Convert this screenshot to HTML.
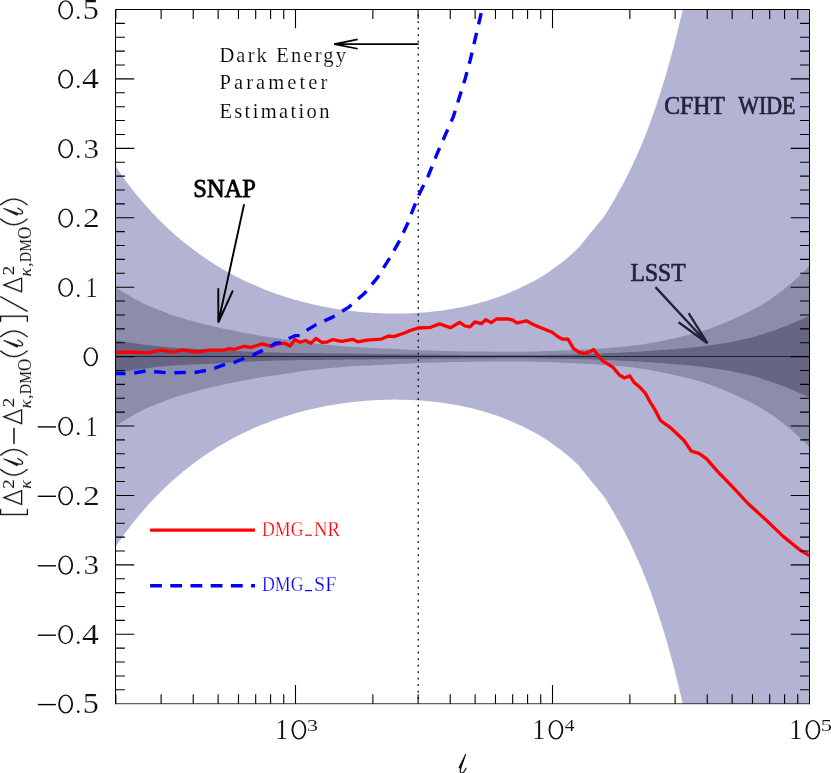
<!DOCTYPE html>
<html><head><meta charset="utf-8"><title>plot</title>
<style>
html,body{margin:0;padding:0;background:#fff;}
body{width:831px;height:773px;overflow:hidden;}
svg{display:block;}
text{font-family:"Liberation Serif",serif;}
</style></head><body>
<svg width="831" height="773" viewBox="0 0 831 773">
<rect width="831" height="773" fill="#fff"/>
<defs><clipPath id="c"><rect x="115.5" y="9.5" width="694.0" height="694.2"/></clipPath></defs>
<g clip-path="url(#c)">
<path d="M114.5,164.6 L115.6,166.3 L116.8,168.1 L119.2,171.6 L121.5,174.9 L123.8,178.2 L126.1,181.4 L128.5,184.5 L130.8,187.5 L133.1,190.5 L135.4,193.4 L137.8,196.3 L140.1,199.1 L141.3,200.5 L142.4,201.8 L144.8,204.5 L147.1,207.1 L149.4,209.6 L151.7,212.2 L154.1,214.6 L156.4,217.0 L158.7,219.4 L161.1,221.7 L163.4,224.0 L165.7,226.2 L167.0,227.5 L168.0,228.4 L170.4,230.6 L172.7,232.7 L175.0,234.7 L177.3,236.8 L179.7,238.7 L182.0,240.7 L184.3,242.6 L186.7,244.5 L189.0,246.3 L191.3,248.1 L192.7,249.1 L193.6,249.8 L196.0,251.6 L198.3,253.3 L200.6,254.9 L203.0,256.6 L205.3,258.2 L207.6,259.7 L209.9,261.2 L212.3,262.8 L214.6,264.2 L216.9,265.7 L218.4,266.6 L219.2,267.1 L221.6,268.5 L223.9,269.8 L226.2,271.2 L228.6,272.5 L230.9,273.7 L233.2,275.0 L235.5,276.2 L237.9,277.4 L240.2,278.6 L242.5,279.7 L244.1,280.5 L244.9,280.9 L247.2,282.0 L249.5,283.0 L251.8,284.1 L254.2,285.1 L256.5,286.1 L258.8,287.1 L261.1,288.1 L263.5,289.0 L265.8,289.9 L268.1,290.8 L269.8,291.5 L270.5,291.7 L272.8,292.6 L275.1,293.4 L277.4,294.2 L279.8,295.0 L282.1,295.8 L284.4,296.6 L286.8,297.3 L289.1,298.0 L291.4,298.7 L293.7,299.4 L295.5,299.9 L296.1,300.1 L298.4,300.7 L300.7,301.4 L303.0,302.0 L305.4,302.6 L307.7,303.1 L310.0,303.7 L312.4,304.3 L314.7,304.8 L317.0,305.3 L319.3,305.8 L321.2,306.2 L321.7,306.3 L324.0,306.7 L326.3,307.2 L328.7,307.6 L331.0,308.0 L333.3,308.4 L335.6,308.8 L338.0,309.2 L340.3,309.5 L342.6,309.9 L344.9,310.2 L346.9,310.4 L347.3,310.5 L349.6,310.8 L351.9,311.1 L354.3,311.3 L356.6,311.6 L358.9,311.8 L361.2,312.0 L363.6,312.2 L365.9,312.4 L368.2,312.6 L370.6,312.8 L372.6,312.9 L372.9,312.9 L375.2,313.0 L377.5,313.1 L379.9,313.2 L382.2,313.3 L384.5,313.4 L386.8,313.5 L389.2,313.5 L391.5,313.5 L393.8,313.6 L396.2,313.6 L398.3,313.5 L398.5,313.5 L400.8,313.5 L403.1,313.5 L405.5,313.4 L407.8,313.3 L410.1,313.3 L412.5,313.2 L414.8,313.0 L417.1,312.9 L419.4,312.7 L421.8,312.6 L424.0,312.4 L424.1,312.4 L426.4,312.2 L428.7,312.0 L431.1,311.8 L433.4,311.5 L435.7,311.3 L438.1,311.0 L440.4,310.7 L442.7,310.4 L445.0,310.0 L447.4,309.7 L449.7,309.3 L449.7,309.3 L452.0,308.9 L454.4,308.5 L456.7,308.1 L459.0,307.7 L461.3,307.2 L463.7,306.7 L466.0,306.2 L468.3,305.7 L470.6,305.2 L473.0,304.6 L475.3,304.0 L475.4,304.0 L477.6,303.4 L480.0,302.8 L482.3,302.1 L484.6,301.5 L486.9,300.8 L489.3,300.0 L491.6,299.3 L493.9,298.5 L496.3,297.7 L498.6,296.9 L500.9,296.0 L501.1,296.0 L503.2,295.2 L505.6,294.3 L507.9,293.3 L510.2,292.3 L512.5,291.3 L514.9,290.3 L517.2,289.3 L519.5,288.2 L521.9,287.1 L524.2,285.9 L526.5,284.8 L526.8,284.6 L528.8,283.6 L531.2,282.4 L533.5,281.2 L535.8,279.9 L538.2,278.7 L540.5,277.3 L542.8,276.0 L543.0,275.8 L545.1,274.4 L547.5,272.9 L549.8,271.2 L552.1,269.6 L552.5,269.3 L554.4,267.9 L555.0,267.4 L556.8,266.2 L559.1,264.5 L561.4,262.7 L563.8,260.9 L566.1,259.0 L568.0,257.5 L568.4,257.1 L570.7,255.1 L573.1,253.0 L575.4,250.8 L577.7,248.6 L578.0,248.3 L578.2,248.1 L580.1,245.9 L582.4,243.1 L584.7,240.2 L585.0,239.8 L587.0,237.3 L589.4,234.4 L591.7,231.4 L592.0,231.0 L594.0,228.7 L596.3,225.9 L598.0,223.8 L598.7,223.0 L601.0,220.2 L603.3,217.3 L603.9,216.5 L605.0,215.1 L605.7,214.1 L608.0,210.3 L610.3,206.4 L612.0,203.5 L612.6,202.4 L615.0,198.4 L617.3,194.3 L619.6,190.1 L622.0,185.9 L624.3,181.6 L626.6,177.1 L628.9,172.5 L629.6,171.1 L631.3,167.7 L633.6,162.8 L635.9,157.7 L638.2,152.5 L640.6,147.1 L642.9,141.4 L645.2,135.7 L647.6,129.7 L649.9,123.5 L652.2,117.1 L654.5,110.4 L655.3,108.2 L656.9,103.6 L659.2,96.5 L661.5,89.2 L663.9,81.6 L666.2,73.7 L668.5,65.6 L670.8,57.2 L673.2,48.5 L675.5,39.5 L677.8,30.2 L680.1,20.5 L681.0,16.9 L682.5,10.5 L684.8,0.2 L687.1,-5.0 L689.5,-5.0 L691.8,-5.0 L694.1,-5.0 L696.4,-5.0 L698.8,-5.0 L701.1,-5.0 L703.4,-5.0 L705.8,-5.0 L706.7,-5.0 L708.1,-5.0 L710.4,-5.0 L712.7,-5.0 L715.1,-5.0 L717.4,-5.0 L719.7,-5.0 L722.0,-5.0 L724.4,-5.0 L726.7,-5.0 L729.0,-5.0 L731.4,-5.0 L732.4,-5.0 L733.7,-5.0 L736.0,-5.0 L738.3,-5.0 L740.7,-5.0 L743.0,-5.0 L745.3,-5.0 L747.7,-5.0 L750.0,-5.0 L752.3,-5.0 L754.6,-5.0 L757.0,-5.0 L758.1,-5.0 L759.3,-5.0 L761.6,-5.0 L763.9,-5.0 L766.3,-5.0 L768.6,-5.0 L770.9,-5.0 L773.3,-5.0 L775.6,-5.0 L777.9,-5.0 L780.2,-5.0 L782.6,-5.0 L783.8,-5.0 L784.9,-5.0 L787.2,-5.0 L789.6,-5.0 L791.9,-5.0 L794.2,-5.0 L796.5,-5.0 L798.9,-5.0 L801.2,-5.0 L803.5,-5.0 L805.8,-5.0 L808.2,-5.0 L809.5,-5.0 L810.5,-5.0 L810.5,780.0 L809.5,780.0 L808.2,780.0 L805.8,780.0 L803.5,780.0 L801.2,780.0 L798.9,780.0 L796.5,780.0 L794.2,780.0 L791.9,780.0 L789.6,780.0 L787.2,780.0 L784.9,780.0 L783.8,780.0 L782.6,780.0 L780.2,780.0 L777.9,780.0 L775.6,780.0 L773.3,780.0 L770.9,780.0 L768.6,780.0 L766.3,780.0 L763.9,780.0 L761.6,780.0 L759.3,780.0 L758.1,780.0 L757.0,780.0 L754.6,780.0 L752.3,780.0 L750.0,780.0 L747.7,780.0 L745.3,780.0 L743.0,780.0 L740.7,780.0 L738.3,780.0 L736.0,780.0 L733.7,780.0 L732.4,780.0 L731.4,780.0 L729.0,780.0 L726.7,780.0 L724.4,780.0 L722.0,780.0 L719.7,780.0 L717.4,780.0 L715.1,780.0 L712.7,780.0 L710.4,780.0 L708.1,780.0 L706.7,780.0 L705.8,780.0 L703.4,780.0 L701.1,780.0 L698.8,780.0 L696.4,770.7 L694.1,758.3 L691.8,746.4 L689.5,734.9 L687.1,723.8 L684.8,713.0 L682.5,702.7 L681.0,696.3 L680.1,692.7 L677.8,683.0 L675.5,673.7 L673.2,664.7 L670.8,656.0 L668.5,647.6 L666.2,639.5 L663.9,631.6 L661.5,624.0 L659.2,616.7 L656.9,609.6 L655.3,605.0 L654.5,602.8 L652.2,596.1 L649.9,589.7 L647.6,583.5 L645.2,577.5 L642.9,571.8 L640.6,566.1 L638.2,560.7 L635.9,555.5 L633.6,550.4 L631.3,545.5 L629.6,542.1 L628.9,540.7 L626.6,536.1 L624.3,531.6 L622.0,527.3 L619.6,523.1 L617.3,518.9 L615.0,514.8 L612.6,510.8 L612.0,509.7 L610.3,506.8 L608.0,502.9 L605.7,499.1 L605.0,498.1 L603.9,496.7 L603.3,495.9 L601.0,493.0 L598.7,490.2 L598.0,489.4 L596.3,487.3 L594.0,484.5 L592.0,482.2 L591.7,481.8 L589.4,478.8 L587.0,475.9 L585.0,473.4 L584.7,473.0 L582.4,470.1 L580.1,467.3 L578.2,465.1 L578.0,464.9 L577.7,464.6 L575.4,462.4 L573.1,460.2 L570.7,458.1 L568.4,456.1 L568.0,455.7 L566.1,454.2 L563.8,452.3 L561.4,450.5 L559.1,448.7 L556.8,447.0 L555.0,445.8 L554.4,445.3 L552.5,443.9 L552.1,443.6 L549.8,442.0 L547.5,440.3 L545.1,438.8 L543.0,437.4 L542.8,437.2 L540.5,435.9 L538.2,434.5 L535.8,433.3 L533.5,432.0 L531.2,430.8 L528.8,429.6 L526.8,428.6 L526.5,428.4 L524.2,427.3 L521.9,426.1 L519.5,425.0 L517.2,423.9 L514.9,422.9 L512.5,421.9 L510.2,420.9 L507.9,419.9 L505.6,418.9 L503.2,418.0 L501.1,417.2 L500.9,417.2 L498.6,416.3 L496.3,415.5 L493.9,414.7 L491.6,413.9 L489.3,413.2 L486.9,412.4 L484.6,411.7 L482.3,411.1 L480.0,410.4 L477.6,409.8 L475.4,409.2 L475.3,409.2 L473.0,408.6 L470.6,408.0 L468.3,407.5 L466.0,407.0 L463.7,406.5 L461.3,406.0 L459.0,405.5 L456.7,405.1 L454.4,404.7 L452.0,404.3 L449.7,403.9 L449.7,403.9 L447.4,403.5 L445.0,403.2 L442.7,402.8 L440.4,402.5 L438.1,402.2 L435.7,401.9 L433.4,401.7 L431.1,401.4 L428.7,401.2 L426.4,401.0 L424.1,400.8 L424.0,400.8 L421.8,400.6 L419.4,400.5 L417.1,400.3 L414.8,400.2 L412.5,400.0 L410.1,399.9 L407.8,399.9 L405.5,399.8 L403.1,399.7 L400.8,399.7 L398.5,399.7 L398.3,399.7 L396.2,399.6 L393.8,399.6 L391.5,399.7 L389.2,399.7 L386.8,399.7 L384.5,399.8 L382.2,399.9 L379.9,400.0 L377.5,400.1 L375.2,400.2 L372.9,400.3 L372.6,400.3 L370.6,400.4 L368.2,400.6 L365.9,400.8 L363.6,401.0 L361.2,401.2 L358.9,401.4 L356.6,401.6 L354.3,401.9 L351.9,402.1 L349.6,402.4 L347.3,402.7 L346.9,402.8 L344.9,403.0 L342.6,403.3 L340.3,403.7 L338.0,404.0 L335.6,404.4 L333.3,404.8 L331.0,405.2 L328.7,405.6 L326.3,406.0 L324.0,406.5 L321.7,406.9 L321.2,407.0 L319.3,407.4 L317.0,407.9 L314.7,408.4 L312.4,408.9 L310.0,409.5 L307.7,410.1 L305.4,410.6 L303.0,411.2 L300.7,411.8 L298.4,412.5 L296.1,413.1 L295.5,413.3 L293.7,413.8 L291.4,414.5 L289.1,415.2 L286.8,415.9 L284.4,416.6 L282.1,417.4 L279.8,418.2 L277.4,419.0 L275.1,419.8 L272.8,420.6 L270.5,421.5 L269.8,421.7 L268.1,422.4 L265.8,423.3 L263.5,424.2 L261.1,425.1 L258.8,426.1 L256.5,427.1 L254.2,428.1 L251.8,429.1 L249.5,430.2 L247.2,431.2 L244.9,432.3 L244.1,432.7 L242.5,433.5 L240.2,434.6 L237.9,435.8 L235.5,437.0 L233.2,438.2 L230.9,439.5 L228.6,440.7 L226.2,442.0 L223.9,443.4 L221.6,444.7 L219.2,446.1 L218.4,446.6 L216.9,447.5 L214.6,449.0 L212.3,450.4 L209.9,452.0 L207.6,453.5 L205.3,455.0 L203.0,456.6 L200.6,458.3 L198.3,459.9 L196.0,461.6 L193.6,463.4 L192.7,464.1 L191.3,465.1 L189.0,466.9 L186.7,468.7 L184.3,470.6 L182.0,472.5 L179.7,474.5 L177.3,476.4 L175.0,478.5 L172.7,480.5 L170.4,482.6 L168.0,484.8 L167.0,485.7 L165.7,487.0 L163.4,489.2 L161.1,491.5 L158.7,493.8 L156.4,496.2 L154.1,498.6 L151.7,501.0 L149.4,503.6 L147.1,506.1 L144.8,508.7 L142.4,511.4 L141.3,512.7 L140.1,514.1 L137.8,516.9 L135.4,519.8 L133.1,522.7 L130.8,525.7 L128.5,528.7 L126.1,531.8 L123.8,535.0 L121.5,538.3 L119.2,541.6 L116.8,545.1 L115.6,546.9 L114.5,548.6Z" fill="#b3b3d4"/>
<path d="M114.5,287.4 L115.6,287.5 L116.8,288.2 L119.2,289.5 L121.5,290.9 L123.8,292.3 L126.1,293.7 L128.5,295.1 L130.8,296.5 L133.1,297.9 L135.4,299.2 L137.8,300.5 L140.1,301.7 L141.3,302.3 L142.4,302.9 L144.8,304.1 L147.1,305.1 L149.4,306.2 L151.7,307.1 L154.1,308.1 L156.4,309.0 L158.7,309.9 L161.1,310.8 L163.4,311.7 L165.7,312.6 L167.0,313.1 L168.0,313.5 L170.4,314.4 L172.7,315.2 L175.0,316.0 L177.3,316.7 L179.7,317.4 L182.0,318.1 L184.3,318.8 L186.7,319.5 L189.0,320.2 L191.3,320.8 L192.7,321.2 L193.6,321.4 L196.0,322.0 L198.3,322.7 L200.6,323.3 L203.0,323.9 L205.3,324.5 L207.6,325.0 L209.9,325.6 L212.3,326.2 L214.6,326.7 L216.9,327.2 L218.4,327.5 L219.2,327.7 L221.6,328.2 L223.9,328.7 L226.2,329.2 L228.6,329.6 L230.9,330.1 L233.2,330.6 L235.5,331.0 L237.9,331.5 L240.2,331.9 L242.5,332.4 L244.1,332.7 L244.9,332.9 L247.2,333.3 L249.5,333.8 L251.8,334.2 L254.2,334.6 L256.5,335.1 L258.8,335.5 L261.1,335.9 L263.5,336.2 L265.8,336.6 L268.1,336.9 L269.8,337.2 L270.5,337.3 L272.8,337.6 L275.1,337.9 L277.4,338.2 L279.8,338.5 L282.1,338.9 L284.4,339.2 L286.8,339.6 L289.1,339.9 L291.4,340.4 L293.7,340.8 L295.5,341.1 L296.1,341.2 L298.4,341.6 L300.7,341.9 L303.0,342.2 L305.4,342.5 L307.7,342.7 L310.0,343.0 L312.4,343.2 L314.7,343.5 L317.0,343.7 L319.3,343.9 L321.2,344.1 L321.7,344.2 L324.0,344.4 L326.3,344.7 L328.7,344.9 L331.0,345.1 L333.3,345.4 L335.6,345.6 L338.0,345.8 L340.3,346.0 L342.6,346.2 L344.9,346.4 L346.9,346.5 L347.3,346.6 L349.6,346.7 L351.9,346.9 L354.3,347.0 L356.6,347.1 L358.9,347.2 L361.2,347.4 L363.6,347.5 L365.9,347.6 L368.2,347.7 L370.6,347.8 L372.6,347.9 L372.9,347.9 L375.2,348.1 L377.5,348.2 L379.9,348.3 L382.2,348.4 L384.5,348.5 L386.8,348.6 L389.2,348.7 L391.5,348.8 L393.8,348.9 L396.2,349.0 L398.3,349.1 L398.5,349.1 L400.8,349.2 L403.1,349.4 L405.5,349.5 L407.8,349.6 L410.1,349.7 L412.5,349.9 L414.8,350.0 L417.1,350.1 L419.4,350.2 L421.8,350.3 L424.0,350.3 L424.1,350.3 L426.4,350.4 L428.7,350.5 L431.1,350.6 L433.4,350.6 L435.7,350.7 L438.1,350.8 L440.4,350.8 L442.7,350.9 L445.0,351.0 L447.4,351.0 L449.7,351.1 L449.7,351.1 L452.0,351.1 L454.4,351.2 L456.7,351.2 L459.0,351.3 L461.3,351.3 L463.7,351.3 L466.0,351.4 L468.3,351.4 L470.6,351.4 L473.0,351.5 L475.3,351.5 L475.4,351.5 L477.6,351.5 L480.0,351.5 L482.3,351.6 L484.6,351.6 L486.9,351.6 L489.3,351.6 L491.6,351.7 L493.9,351.7 L496.3,351.7 L498.6,351.7 L500.9,351.7 L501.1,351.7 L503.2,351.7 L505.6,351.8 L507.9,351.8 L510.2,351.8 L512.5,351.8 L514.9,351.8 L517.2,351.8 L519.5,351.8 L521.9,351.8 L524.2,351.8 L526.5,351.7 L526.8,351.7 L528.8,351.7 L531.2,351.6 L533.5,351.6 L535.8,351.5 L538.2,351.4 L540.5,351.3 L542.8,351.2 L543.0,351.2 L545.1,351.1 L547.5,351.1 L549.8,351.0 L552.1,350.9 L552.5,350.9 L554.4,350.8 L555.0,350.8 L556.8,350.7 L559.1,350.6 L561.4,350.5 L563.8,350.4 L566.1,350.3 L568.0,350.3 L568.4,350.2 L570.7,350.1 L573.1,350.0 L575.4,349.9 L577.7,349.8 L578.0,349.8 L578.2,349.8 L580.1,349.7 L582.4,349.6 L584.7,349.5 L585.0,349.4 L587.0,349.3 L589.4,349.2 L591.7,349.1 L592.0,349.1 L594.0,348.9 L596.3,348.8 L598.0,348.7 L598.7,348.6 L601.0,348.5 L603.3,348.3 L603.9,348.3 L605.0,348.2 L605.7,348.2 L608.0,348.0 L610.3,347.8 L612.0,347.7 L612.6,347.6 L615.0,347.4 L617.3,347.2 L619.6,347.0 L622.0,346.8 L624.3,346.6 L626.6,346.4 L628.9,346.1 L629.6,346.1 L631.3,345.9 L633.6,345.6 L635.9,345.3 L638.2,345.0 L640.6,344.7 L642.9,344.4 L645.2,344.0 L647.6,343.6 L649.9,343.2 L652.2,342.7 L654.5,342.3 L655.3,342.2 L656.9,341.9 L659.2,341.4 L661.5,340.9 L663.9,340.5 L666.2,340.0 L668.5,339.4 L670.8,338.9 L673.2,338.4 L675.5,337.9 L677.8,337.4 L680.1,336.8 L681.0,336.7 L682.5,336.3 L684.8,335.8 L687.1,335.3 L689.5,334.7 L691.8,334.1 L694.1,333.5 L696.4,332.9 L698.8,332.3 L701.1,331.6 L703.4,330.8 L705.8,330.0 L706.7,329.7 L708.1,329.2 L710.4,328.4 L712.7,327.5 L715.1,326.6 L717.4,325.7 L719.7,324.8 L722.0,323.9 L724.4,322.9 L726.7,321.9 L729.0,320.9 L731.4,319.9 L732.4,319.5 L733.7,318.9 L736.0,317.8 L738.3,316.8 L740.7,315.7 L743.0,314.6 L745.3,313.5 L747.7,312.4 L750.0,311.2 L752.3,310.0 L754.6,308.8 L757.0,307.5 L758.1,306.9 L759.3,306.2 L761.6,304.9 L763.9,303.5 L766.3,302.0 L768.6,300.5 L770.9,298.9 L773.3,297.3 L775.6,295.6 L777.9,293.9 L780.2,292.1 L782.6,290.3 L783.8,289.4 L784.9,288.5 L787.2,286.6 L789.6,284.7 L791.9,282.8 L794.2,280.7 L796.5,278.6 L798.9,276.5 L801.2,274.2 L803.5,271.9 L805.8,269.6 L808.2,267.1 L809.5,265.7 L810.5,264.6 L810.5,448.6 L809.5,447.5 L808.2,446.1 L805.8,443.6 L803.5,441.3 L801.2,439.0 L798.9,436.7 L796.5,434.6 L794.2,432.5 L791.9,430.4 L789.6,428.5 L787.2,426.6 L784.9,424.7 L783.8,423.8 L782.6,422.9 L780.2,421.1 L777.9,419.3 L775.6,417.6 L773.3,415.9 L770.9,414.3 L768.6,412.7 L766.3,411.2 L763.9,409.7 L761.6,408.3 L759.3,407.0 L758.1,406.3 L757.0,405.7 L754.6,404.4 L752.3,403.2 L750.0,402.0 L747.7,400.8 L745.3,399.7 L743.0,398.6 L740.7,397.5 L738.3,396.4 L736.0,395.4 L733.7,394.3 L732.4,393.7 L731.4,393.3 L729.0,392.3 L726.7,391.3 L724.4,390.3 L722.0,389.3 L719.7,388.4 L717.4,387.5 L715.1,386.6 L712.7,385.7 L710.4,384.8 L708.1,384.0 L706.7,383.5 L705.8,383.2 L703.4,382.4 L701.1,381.6 L698.8,380.9 L696.4,380.3 L694.1,379.7 L691.8,379.1 L689.5,378.5 L687.1,377.9 L684.8,377.4 L682.5,376.9 L681.0,376.5 L680.1,376.4 L677.8,375.8 L675.5,375.3 L673.2,374.8 L670.8,374.3 L668.5,373.8 L666.2,373.2 L663.9,372.7 L661.5,372.3 L659.2,371.8 L656.9,371.3 L655.3,371.0 L654.5,370.9 L652.2,370.5 L649.9,370.0 L647.6,369.6 L645.2,369.2 L642.9,368.8 L640.6,368.5 L638.2,368.2 L635.9,367.9 L633.6,367.6 L631.3,367.3 L629.6,367.1 L628.9,367.1 L626.6,366.8 L624.3,366.6 L622.0,366.4 L619.6,366.2 L617.3,366.0 L615.0,365.8 L612.6,365.6 L612.0,365.5 L610.3,365.4 L608.0,365.2 L605.7,365.0 L605.0,365.0 L603.9,364.9 L603.3,364.9 L601.0,364.7 L598.7,364.6 L598.0,364.5 L596.3,364.4 L594.0,364.3 L592.0,364.1 L591.7,364.1 L589.4,364.0 L587.0,363.9 L585.0,363.8 L584.7,363.7 L582.4,363.6 L580.1,363.5 L578.2,363.4 L578.0,363.4 L577.7,363.4 L575.4,363.3 L573.1,363.2 L570.7,363.1 L568.4,363.0 L568.0,362.9 L566.1,362.9 L563.8,362.8 L561.4,362.7 L559.1,362.6 L556.8,362.5 L555.0,362.4 L554.4,362.4 L552.5,362.3 L552.1,362.3 L549.8,362.2 L547.5,362.1 L545.1,362.1 L543.0,362.0 L542.8,362.0 L540.5,361.9 L538.2,361.8 L535.8,361.7 L533.5,361.6 L531.2,361.6 L528.8,361.5 L526.8,361.5 L526.5,361.5 L524.2,361.4 L521.9,361.4 L519.5,361.4 L517.2,361.4 L514.9,361.4 L512.5,361.4 L510.2,361.4 L507.9,361.4 L505.6,361.4 L503.2,361.5 L501.1,361.5 L500.9,361.5 L498.6,361.5 L496.3,361.5 L493.9,361.5 L491.6,361.5 L489.3,361.6 L486.9,361.6 L484.6,361.6 L482.3,361.6 L480.0,361.7 L477.6,361.7 L475.4,361.7 L475.3,361.7 L473.0,361.7 L470.6,361.8 L468.3,361.8 L466.0,361.8 L463.7,361.9 L461.3,361.9 L459.0,361.9 L456.7,362.0 L454.4,362.0 L452.0,362.1 L449.7,362.1 L449.7,362.1 L447.4,362.2 L445.0,362.2 L442.7,362.3 L440.4,362.4 L438.1,362.4 L435.7,362.5 L433.4,362.6 L431.1,362.6 L428.7,362.7 L426.4,362.8 L424.1,362.9 L424.0,362.9 L421.8,362.9 L419.4,363.0 L417.1,363.1 L414.8,363.2 L412.5,363.3 L410.1,363.5 L407.8,363.6 L405.5,363.7 L403.1,363.8 L400.8,364.0 L398.5,364.1 L398.3,364.1 L396.2,364.2 L393.8,364.3 L391.5,364.4 L389.2,364.5 L386.8,364.6 L384.5,364.7 L382.2,364.8 L379.9,364.9 L377.5,365.0 L375.2,365.1 L372.9,365.3 L372.6,365.3 L370.6,365.4 L368.2,365.5 L365.9,365.6 L363.6,365.7 L361.2,365.8 L358.9,366.0 L356.6,366.1 L354.3,366.2 L351.9,366.3 L349.6,366.5 L347.3,366.6 L346.9,366.7 L344.9,366.8 L342.6,367.0 L340.3,367.2 L338.0,367.4 L335.6,367.6 L333.3,367.8 L331.0,368.1 L328.7,368.3 L326.3,368.5 L324.0,368.8 L321.7,369.0 L321.2,369.1 L319.3,369.3 L317.0,369.5 L314.7,369.7 L312.4,370.0 L310.0,370.2 L307.7,370.5 L305.4,370.7 L303.0,371.0 L300.7,371.3 L298.4,371.6 L296.1,372.0 L295.5,372.1 L293.7,372.4 L291.4,372.8 L289.1,373.3 L286.8,373.6 L284.4,374.0 L282.1,374.3 L279.8,374.7 L277.4,375.0 L275.1,375.3 L272.8,375.6 L270.5,375.9 L269.8,376.0 L268.1,376.3 L265.8,376.6 L263.5,377.0 L261.1,377.3 L258.8,377.7 L256.5,378.1 L254.2,378.6 L251.8,379.0 L249.5,379.4 L247.2,379.9 L244.9,380.3 L244.1,380.5 L242.5,380.8 L240.2,381.3 L237.9,381.7 L235.5,382.2 L233.2,382.6 L230.9,383.1 L228.6,383.6 L226.2,384.0 L223.9,384.5 L221.6,385.0 L219.2,385.5 L218.4,385.7 L216.9,386.0 L214.6,386.5 L212.3,387.0 L209.9,387.6 L207.6,388.2 L205.3,388.7 L203.0,389.3 L200.6,389.9 L198.3,390.5 L196.0,391.2 L193.6,391.8 L192.7,392.0 L191.3,392.4 L189.0,393.0 L186.7,393.7 L184.3,394.4 L182.0,395.1 L179.7,395.8 L177.3,396.5 L175.0,397.2 L172.7,398.0 L170.4,398.8 L168.0,399.7 L167.0,400.1 L165.7,400.6 L163.4,401.5 L161.1,402.4 L158.7,403.3 L156.4,404.2 L154.1,405.1 L151.7,406.1 L149.4,407.0 L147.1,408.1 L144.8,409.1 L142.4,410.3 L141.3,410.9 L140.1,411.5 L137.8,412.7 L135.4,414.0 L133.1,415.3 L130.8,416.7 L128.5,418.1 L126.1,419.5 L123.8,420.9 L121.5,422.3 L119.2,423.7 L116.8,425.0 L115.6,425.7 L114.5,425.8Z" fill="#8c8cab"/>
<path d="M114.5,340.4 L115.6,340.4 L116.8,340.6 L119.2,341.0 L121.5,341.4 L123.8,341.7 L126.1,342.1 L128.5,342.4 L130.8,342.8 L133.1,343.1 L135.4,343.4 L137.8,343.7 L140.1,344.1 L141.3,344.2 L142.4,344.4 L144.8,344.7 L147.1,345.0 L149.4,345.3 L151.7,345.6 L154.1,345.9 L156.4,346.1 L158.7,346.4 L161.1,346.6 L163.4,346.8 L165.7,347.0 L167.0,347.1 L168.0,347.2 L170.4,347.4 L172.7,347.6 L175.0,347.7 L177.3,347.9 L179.7,348.0 L182.0,348.2 L184.3,348.3 L186.7,348.4 L189.0,348.5 L191.3,348.6 L192.7,348.7 L193.6,348.7 L196.0,348.8 L198.3,348.9 L200.6,349.0 L203.0,349.1 L205.3,349.2 L207.6,349.3 L209.9,349.4 L212.3,349.5 L214.6,349.6 L216.9,349.8 L218.4,349.9 L219.2,349.9 L221.6,350.1 L223.9,350.2 L226.2,350.4 L228.6,350.5 L230.9,350.6 L233.2,350.8 L235.5,350.9 L237.9,351.0 L240.2,351.2 L242.5,351.3 L244.1,351.4 L244.9,351.4 L247.2,351.5 L249.5,351.7 L251.8,351.8 L254.2,351.9 L256.5,352.0 L258.8,352.1 L261.1,352.2 L263.5,352.2 L265.8,352.3 L268.1,352.4 L269.8,352.4 L270.5,352.5 L272.8,352.5 L275.1,352.6 L277.4,352.6 L279.8,352.7 L282.1,352.8 L284.4,352.8 L286.8,352.9 L289.1,352.9 L291.4,353.0 L293.7,353.0 L295.5,353.0 L296.1,353.0 L298.4,353.1 L300.7,353.1 L303.0,353.1 L305.4,353.2 L307.7,353.2 L310.0,353.2 L312.4,353.3 L314.7,353.3 L317.0,353.3 L319.3,353.3 L321.2,353.3 L321.7,353.3 L324.0,353.4 L326.3,353.4 L328.7,353.4 L331.0,353.4 L333.3,353.5 L335.6,353.5 L338.0,353.5 L340.3,353.5 L342.6,353.5 L344.9,353.6 L346.9,353.6 L347.3,353.6 L349.6,353.6 L351.9,353.6 L354.3,353.7 L356.6,353.7 L358.9,353.7 L361.2,353.8 L363.6,353.8 L365.9,353.8 L368.2,353.8 L370.6,353.9 L372.6,353.9 L372.9,353.9 L375.2,353.9 L377.5,353.9 L379.9,354.0 L382.2,354.0 L384.5,354.0 L386.8,354.1 L389.2,354.1 L391.5,354.1 L393.8,354.1 L396.2,354.2 L398.3,354.2 L398.5,354.2 L400.8,354.2 L403.1,354.2 L405.5,354.3 L407.8,354.3 L410.1,354.3 L412.5,354.3 L414.8,354.3 L417.1,354.4 L419.4,354.4 L421.8,354.4 L424.0,354.4 L424.1,354.4 L426.4,354.5 L428.7,354.5 L431.1,354.5 L433.4,354.6 L435.7,354.6 L438.1,354.6 L440.4,354.6 L442.7,354.7 L445.0,354.7 L447.4,354.7 L449.7,354.7 L449.7,354.7 L452.0,354.8 L454.4,354.8 L456.7,354.8 L459.0,354.8 L461.3,354.9 L463.7,354.9 L466.0,354.9 L468.3,354.9 L470.6,354.9 L473.0,354.9 L475.3,354.9 L475.4,354.9 L477.6,355.0 L480.0,355.0 L482.3,355.0 L484.6,355.0 L486.9,355.0 L489.3,355.0 L491.6,355.0 L493.9,355.0 L496.3,355.0 L498.6,355.1 L500.9,355.1 L501.1,355.1 L503.2,355.1 L505.6,355.1 L507.9,355.1 L510.2,355.1 L512.5,355.1 L514.9,355.1 L517.2,355.1 L519.5,355.1 L521.9,355.1 L524.2,355.1 L526.5,355.1 L526.8,355.1 L528.8,355.1 L531.2,355.0 L533.5,355.0 L535.8,355.0 L538.2,355.0 L540.5,354.9 L542.8,354.9 L543.0,354.9 L545.1,354.9 L547.5,354.8 L549.8,354.8 L552.1,354.8 L552.5,354.7 L554.4,354.7 L555.0,354.7 L556.8,354.7 L559.1,354.6 L561.4,354.6 L563.8,354.5 L566.1,354.5 L568.0,354.4 L568.4,354.4 L570.7,354.4 L573.1,354.3 L575.4,354.3 L577.7,354.2 L578.0,354.2 L578.2,354.2 L580.1,354.1 L582.4,354.1 L584.7,354.0 L585.0,354.0 L587.0,353.9 L589.4,353.9 L591.7,353.8 L592.0,353.8 L594.0,353.7 L596.3,353.6 L598.0,353.5 L598.7,353.5 L601.0,353.4 L603.3,353.3 L603.9,353.3 L605.0,353.3 L605.7,353.2 L608.0,353.1 L610.3,353.0 L612.0,353.0 L612.6,353.0 L615.0,352.9 L617.3,352.8 L619.6,352.7 L622.0,352.5 L624.3,352.4 L626.6,352.3 L628.9,352.2 L629.6,352.2 L631.3,352.1 L633.6,352.0 L635.9,351.8 L638.2,351.7 L640.6,351.6 L642.9,351.4 L645.2,351.3 L647.6,351.1 L649.9,350.9 L652.2,350.8 L654.5,350.6 L655.3,350.5 L656.9,350.4 L659.2,350.2 L661.5,350.1 L663.9,349.9 L666.2,349.7 L668.5,349.5 L670.8,349.3 L673.2,349.2 L675.5,349.0 L677.8,348.8 L680.1,348.6 L681.0,348.5 L682.5,348.4 L684.8,348.2 L687.1,348.0 L689.5,347.8 L691.8,347.6 L694.1,347.3 L696.4,347.1 L698.8,346.8 L701.1,346.6 L703.4,346.3 L705.8,346.0 L706.7,345.8 L708.1,345.6 L710.4,345.3 L712.7,345.0 L715.1,344.6 L717.4,344.3 L719.7,343.9 L722.0,343.5 L724.4,343.2 L726.7,342.8 L729.0,342.4 L731.4,341.9 L732.4,341.7 L733.7,341.5 L736.0,341.0 L738.3,340.5 L740.7,340.0 L743.0,339.5 L745.3,339.0 L747.7,338.4 L750.0,337.9 L752.3,337.3 L754.6,336.7 L757.0,336.1 L758.1,335.7 L759.3,335.3 L761.6,334.6 L763.9,333.8 L766.3,333.0 L768.6,332.2 L770.9,331.4 L773.3,330.6 L775.6,329.8 L777.9,329.0 L780.2,328.1 L782.6,327.3 L783.8,326.8 L784.9,326.4 L787.2,325.4 L789.6,324.4 L791.9,323.4 L794.2,322.4 L796.5,321.5 L798.9,320.5 L801.2,319.5 L803.5,318.5 L805.8,317.5 L808.2,316.6 L809.5,316.0 L810.5,315.6 L810.5,397.6 L809.5,397.2 L808.2,396.6 L805.8,395.7 L803.5,394.7 L801.2,393.7 L798.9,392.7 L796.5,391.7 L794.2,390.8 L791.9,389.8 L789.6,388.8 L787.2,387.8 L784.9,386.8 L783.8,386.4 L782.6,385.9 L780.2,385.1 L777.9,384.2 L775.6,383.4 L773.3,382.6 L770.9,381.8 L768.6,381.0 L766.3,380.2 L763.9,379.4 L761.6,378.6 L759.3,377.9 L758.1,377.5 L757.0,377.1 L754.6,376.5 L752.3,375.9 L750.0,375.3 L747.7,374.8 L745.3,374.2 L743.0,373.7 L740.7,373.2 L738.3,372.7 L736.0,372.2 L733.7,371.7 L732.4,371.5 L731.4,371.3 L729.0,370.8 L726.7,370.4 L724.4,370.0 L722.0,369.7 L719.7,369.3 L717.4,368.9 L715.1,368.6 L712.7,368.2 L710.4,367.9 L708.1,367.6 L706.7,367.4 L705.8,367.2 L703.4,366.9 L701.1,366.6 L698.8,366.4 L696.4,366.1 L694.1,365.9 L691.8,365.6 L689.5,365.4 L687.1,365.2 L684.8,365.0 L682.5,364.8 L681.0,364.7 L680.1,364.6 L677.8,364.4 L675.5,364.2 L673.2,364.0 L670.8,363.9 L668.5,363.7 L666.2,363.5 L663.9,363.3 L661.5,363.1 L659.2,363.0 L656.9,362.8 L655.3,362.7 L654.5,362.6 L652.2,362.4 L649.9,362.3 L647.6,362.1 L645.2,361.9 L642.9,361.8 L640.6,361.6 L638.2,361.5 L635.9,361.4 L633.6,361.2 L631.3,361.1 L629.6,361.0 L628.9,361.0 L626.6,360.9 L624.3,360.8 L622.0,360.7 L619.6,360.5 L617.3,360.4 L615.0,360.3 L612.6,360.2 L612.0,360.2 L610.3,360.2 L608.0,360.1 L605.7,360.0 L605.0,359.9 L603.9,359.9 L603.3,359.9 L601.0,359.8 L598.7,359.7 L598.0,359.7 L596.3,359.6 L594.0,359.5 L592.0,359.4 L591.7,359.4 L589.4,359.3 L587.0,359.3 L585.0,359.2 L584.7,359.2 L582.4,359.1 L580.1,359.1 L578.2,359.0 L578.0,359.0 L577.7,359.0 L575.4,358.9 L573.1,358.9 L570.7,358.8 L568.4,358.8 L568.0,358.8 L566.1,358.7 L563.8,358.7 L561.4,358.6 L559.1,358.6 L556.8,358.5 L555.0,358.5 L554.4,358.5 L552.5,358.5 L552.1,358.4 L549.8,358.4 L547.5,358.4 L545.1,358.3 L543.0,358.3 L542.8,358.3 L540.5,358.3 L538.2,358.2 L535.8,358.2 L533.5,358.2 L531.2,358.2 L528.8,358.1 L526.8,358.1 L526.5,358.1 L524.2,358.1 L521.9,358.1 L519.5,358.1 L517.2,358.1 L514.9,358.1 L512.5,358.1 L510.2,358.1 L507.9,358.1 L505.6,358.1 L503.2,358.1 L501.1,358.1 L500.9,358.1 L498.6,358.1 L496.3,358.2 L493.9,358.2 L491.6,358.2 L489.3,358.2 L486.9,358.2 L484.6,358.2 L482.3,358.2 L480.0,358.2 L477.6,358.2 L475.4,358.3 L475.3,358.3 L473.0,358.3 L470.6,358.3 L468.3,358.3 L466.0,358.3 L463.7,358.3 L461.3,358.3 L459.0,358.4 L456.7,358.4 L454.4,358.4 L452.0,358.4 L449.7,358.5 L449.7,358.5 L447.4,358.5 L445.0,358.5 L442.7,358.5 L440.4,358.6 L438.1,358.6 L435.7,358.6 L433.4,358.6 L431.1,358.7 L428.7,358.7 L426.4,358.7 L424.1,358.8 L424.0,358.8 L421.8,358.8 L419.4,358.8 L417.1,358.8 L414.8,358.9 L412.5,358.9 L410.1,358.9 L407.8,358.9 L405.5,358.9 L403.1,359.0 L400.8,359.0 L398.5,359.0 L398.3,359.0 L396.2,359.0 L393.8,359.1 L391.5,359.1 L389.2,359.1 L386.8,359.1 L384.5,359.2 L382.2,359.2 L379.9,359.2 L377.5,359.3 L375.2,359.3 L372.9,359.3 L372.6,359.3 L370.6,359.3 L368.2,359.4 L365.9,359.4 L363.6,359.4 L361.2,359.4 L358.9,359.5 L356.6,359.5 L354.3,359.5 L351.9,359.6 L349.6,359.6 L347.3,359.6 L346.9,359.6 L344.9,359.6 L342.6,359.7 L340.3,359.7 L338.0,359.7 L335.6,359.7 L333.3,359.7 L331.0,359.8 L328.7,359.8 L326.3,359.8 L324.0,359.8 L321.7,359.9 L321.2,359.9 L319.3,359.9 L317.0,359.9 L314.7,359.9 L312.4,359.9 L310.0,360.0 L307.7,360.0 L305.4,360.0 L303.0,360.1 L300.7,360.1 L298.4,360.1 L296.1,360.2 L295.5,360.2 L293.7,360.2 L291.4,360.2 L289.1,360.3 L286.8,360.3 L284.4,360.4 L282.1,360.4 L279.8,360.5 L277.4,360.6 L275.1,360.6 L272.8,360.7 L270.5,360.7 L269.8,360.8 L268.1,360.8 L265.8,360.9 L263.5,361.0 L261.1,361.0 L258.8,361.1 L256.5,361.2 L254.2,361.3 L251.8,361.4 L249.5,361.5 L247.2,361.7 L244.9,361.8 L244.1,361.8 L242.5,361.9 L240.2,362.0 L237.9,362.2 L235.5,362.3 L233.2,362.4 L230.9,362.6 L228.6,362.7 L226.2,362.8 L223.9,363.0 L221.6,363.1 L219.2,363.3 L218.4,363.3 L216.9,363.4 L214.6,363.6 L212.3,363.7 L209.9,363.8 L207.6,363.9 L205.3,364.0 L203.0,364.1 L200.6,364.2 L198.3,364.3 L196.0,364.4 L193.6,364.5 L192.7,364.5 L191.3,364.6 L189.0,364.7 L186.7,364.8 L184.3,364.9 L182.0,365.0 L179.7,365.2 L177.3,365.3 L175.0,365.5 L172.7,365.6 L170.4,365.8 L168.0,366.0 L167.0,366.1 L165.7,366.2 L163.4,366.4 L161.1,366.6 L158.7,366.8 L156.4,367.1 L154.1,367.3 L151.7,367.6 L149.4,367.9 L147.1,368.2 L144.8,368.5 L142.4,368.8 L141.3,369.0 L140.1,369.1 L137.8,369.5 L135.4,369.8 L133.1,370.1 L130.8,370.4 L128.5,370.8 L126.1,371.1 L123.8,371.5 L121.5,371.8 L119.2,372.2 L116.8,372.6 L115.6,372.8 L114.5,372.8Z" fill="#666684"/>
<path d="M115.5,356.5 H809.5" stroke="#20202e" stroke-width="1"/>
<path d="M418.22,8.75 V703.7" stroke="#0a0a14" stroke-width="1.4" stroke-dasharray="0.8 5.7" stroke-linecap="round"/>
<path d="M115.6,352.3 L130.0,352.0 L148.1,352.9 L160.7,350.2 L173.4,352.0 L182.4,350.0 L196.8,352.0 L209.5,350.2 L223.9,350.2 L229.3,348.7 L234.7,349.3 L243.8,346.4 L251.0,347.5 L262.2,343.8 L271.2,346.3 L278.5,343.8 L284.8,343.2 L290.2,346.0 L294.7,339.6 L300.1,342.3 L305.5,340.5 L311.0,343.2 L316.0,338.4 L321.8,342.3 L327.2,342.0 L332.6,339.6 L341.6,341.4 L352.5,339.3 L357.9,341.8 L366.9,340.2 L381.4,339.1 L388.6,336.0 L394.0,336.6 L405.0,332.8 L409.0,330.9 L418.0,328.0 L430.7,327.3 L439.7,323.9 L450.5,327.7 L459.6,322.4 L465.0,326.0 L470.0,326.9 L474.9,321.9 L481.2,323.7 L485.7,319.7 L491.2,322.6 L496.6,319.0 L508.3,319.0 L512.8,320.1 L517.0,323.0 L526.4,320.8 L532.7,324.2 L540.8,327.8 L551.7,332.0 L558.0,336.7 L562.6,339.2 L568.0,339.2 L573.4,348.3 L578.8,352.2 L584.2,353.3 L589.6,351.9 L593.6,349.4 L597.8,355.1 L602.3,360.5 L613.1,367.4 L619.4,375.0 L624.5,378.0 L629.7,375.9 L633.9,382.2 L640.2,387.6 L645.2,393.0 L650.1,402.0 L655.5,410.7 L660.5,420.5 L670.7,427.9 L683.8,440.3 L691.4,451.2 L699.0,453.4 L706.6,458.8 L717.5,471.4 L732.8,487.1 L748.0,503.5 L765.4,519.4 L782.9,536.1 L800.3,550.3 L809.9,555.7" fill="none" stroke="#ff0000" stroke-width="3.3" stroke-linejoin="round"/>
<path d="M115.5,373.5 L126.4,373.5 L135.5,372.7 L146.3,370.9 L155.3,371.8 L166.2,372.7 L175.2,372.7 L186.0,372.4 L195.9,372.2 L206.8,370.4 L214.9,368.2 L225.7,364.1 L234.7,362.3 L244.7,358.1 L252.1,355.4 L263.1,350.2 L270.6,346.5 L275.3,343.2 L280.7,342.7 L288.8,338.5 L295.5,335.6 L299.7,335.6 L306.4,330.5 L316.1,324.6 L332.6,317.1 L348.9,307.1 L365.1,292.7 L377.5,277.6 L390.0,257.6 L400.0,240.0 L407.5,223.8 L413.8,207.5 L420.0,192.5 L427.8,177.0 L437.1,153.7 L445.2,135.1 L453.4,116.5 L459.2,97.8 L465.0,79.2 L470.4,59.4 L475.0,39.6 L480.2,17.5 L482.0,9.5" fill="none" stroke="#0000ff" stroke-width="3.4" stroke-dasharray="11.5 8.7" stroke-dashoffset="1.5" stroke-linejoin="round"/>
</g>
<path d="M115.50,689.82 h9.4 M809.50,689.82 h-9.4 M115.50,675.93 h9.4 M809.50,675.93 h-9.4 M115.50,662.05 h9.4 M809.50,662.05 h-9.4 M115.50,648.16 h9.4 M809.50,648.16 h-9.4 M115.50,634.28 h18.8 M809.50,634.28 h-18.8 M115.50,620.40 h9.4 M809.50,620.40 h-9.4 M115.50,606.51 h9.4 M809.50,606.51 h-9.4 M115.50,592.63 h9.4 M809.50,592.63 h-9.4 M115.50,578.74 h9.4 M809.50,578.74 h-9.4 M115.50,564.86 h18.8 M809.50,564.86 h-18.8 M115.50,550.98 h9.4 M809.50,550.98 h-9.4 M115.50,537.09 h9.4 M809.50,537.09 h-9.4 M115.50,523.21 h9.4 M809.50,523.21 h-9.4 M115.50,509.32 h9.4 M809.50,509.32 h-9.4 M115.50,495.44 h18.8 M809.50,495.44 h-18.8 M115.50,481.56 h9.4 M809.50,481.56 h-9.4 M115.50,467.67 h9.4 M809.50,467.67 h-9.4 M115.50,453.79 h9.4 M809.50,453.79 h-9.4 M115.50,439.90 h9.4 M809.50,439.90 h-9.4 M115.50,426.02 h18.8 M809.50,426.02 h-18.8 M115.50,412.14 h9.4 M809.50,412.14 h-9.4 M115.50,398.25 h9.4 M809.50,398.25 h-9.4 M115.50,384.37 h9.4 M809.50,384.37 h-9.4 M115.50,370.48 h9.4 M809.50,370.48 h-9.4 M115.50,356.60 h18.8 M809.50,356.60 h-18.8 M115.50,342.72 h9.4 M809.50,342.72 h-9.4 M115.50,328.83 h9.4 M809.50,328.83 h-9.4 M115.50,314.95 h9.4 M809.50,314.95 h-9.4 M115.50,301.06 h9.4 M809.50,301.06 h-9.4 M115.50,287.18 h18.8 M809.50,287.18 h-18.8 M115.50,273.30 h9.4 M809.50,273.30 h-9.4 M115.50,259.41 h9.4 M809.50,259.41 h-9.4 M115.50,245.53 h9.4 M809.50,245.53 h-9.4 M115.50,231.64 h9.4 M809.50,231.64 h-9.4 M115.50,217.76 h18.8 M809.50,217.76 h-18.8 M115.50,203.88 h9.4 M809.50,203.88 h-9.4 M115.50,189.99 h9.4 M809.50,189.99 h-9.4 M115.50,176.11 h9.4 M809.50,176.11 h-9.4 M115.50,162.22 h9.4 M809.50,162.22 h-9.4 M115.50,148.34 h18.8 M809.50,148.34 h-18.8 M115.50,134.46 h9.4 M809.50,134.46 h-9.4 M115.50,120.57 h9.4 M809.50,120.57 h-9.4 M115.50,106.69 h9.4 M809.50,106.69 h-9.4 M115.50,92.80 h9.4 M809.50,92.80 h-9.4 M115.50,78.92 h18.8 M809.50,78.92 h-18.8 M115.50,65.04 h9.4 M809.50,65.04 h-9.4 M115.50,51.15 h9.4 M809.50,51.15 h-9.4 M115.50,37.27 h9.4 M809.50,37.27 h-9.4 M115.50,23.38 h9.4 M809.50,23.38 h-9.4 M115.86,703.70 v-9.4 M115.86,9.50 v9.4 M161.12,703.70 v-9.4 M161.12,9.50 v9.4 M193.23,703.70 v-9.4 M193.23,9.50 v9.4 M218.14,703.70 v-9.4 M218.14,9.50 v9.4 M238.48,703.70 v-9.4 M238.48,9.50 v9.4 M255.69,703.70 v-9.4 M255.69,9.50 v9.4 M270.59,703.70 v-9.4 M270.59,9.50 v9.4 M283.74,703.70 v-9.4 M283.74,9.50 v9.4 M295.50,703.70 v-18.8 M295.50,9.50 v18.8 M372.86,703.70 v-9.4 M372.86,9.50 v9.4 M418.12,703.70 v-9.4 M418.12,9.50 v9.4 M450.23,703.70 v-9.4 M450.23,9.50 v9.4 M475.14,703.70 v-9.4 M475.14,9.50 v9.4 M495.48,703.70 v-9.4 M495.48,9.50 v9.4 M512.69,703.70 v-9.4 M512.69,9.50 v9.4 M527.59,703.70 v-9.4 M527.59,9.50 v9.4 M540.74,703.70 v-9.4 M540.74,9.50 v9.4 M552.50,703.70 v-18.8 M552.50,9.50 v18.8 M629.86,703.70 v-9.4 M629.86,9.50 v9.4 M675.12,703.70 v-9.4 M675.12,9.50 v9.4 M707.23,703.70 v-9.4 M707.23,9.50 v9.4 M732.14,703.70 v-9.4 M732.14,9.50 v9.4 M752.48,703.70 v-9.4 M752.48,9.50 v9.4 M769.69,703.70 v-9.4 M769.69,9.50 v9.4 M784.59,703.70 v-9.4 M784.59,9.50 v9.4 M797.74,703.70 v-9.4 M797.74,9.50 v9.4" stroke="#000" stroke-width="1.1" fill="none"/>
<path d="M115.5,704.2 V9.5 H809.5 V704.2" fill="none" stroke="#000" stroke-width="1"/>
<path d="M115.0,703.65 H810.0" fill="none" stroke="#000" stroke-opacity="0.62" stroke-width="1.2"/>
<g opacity="0.999">
<!-- legend -->
<path d="M150.1,530.2 H255" stroke="#ff0000" stroke-width="3.3"/>
<path d="M150.1,585.75 H255" stroke="#0000ff" stroke-width="3.3" stroke-dasharray="11.8 8.4"/>
<text x="262.0" y="535.8" font-size="20.5" text-anchor="start" textLength="41.5" lengthAdjust="spacingAndGlyphs" fill="#ff0000" stroke="#fff" stroke-width="0.25">DMG</text>
<path d="M305,535.2 h7" stroke="#ff0000" stroke-width="1.2"/>
<text x="314.0" y="535.8" font-size="20.5" text-anchor="start" textLength="26.0" lengthAdjust="spacingAndGlyphs" fill="#ff0000" stroke="#fff" stroke-width="0.25">NR</text>
<text x="262.0" y="591.2" font-size="20.5" text-anchor="start" textLength="41.5" lengthAdjust="spacingAndGlyphs" fill="#0000ff" stroke="#fff" stroke-width="0.25">DMG</text>
<path d="M305,590.6 h7" stroke="#0000ff" stroke-width="1.2"/>
<text x="314.0" y="591.2" font-size="20.5" text-anchor="start" textLength="22.3" lengthAdjust="spacingAndGlyphs" fill="#0000ff" stroke="#fff" stroke-width="0.25">SF</text>
<!-- annotations -->
<text x="219.4" y="62.1" font-size="20.5" text-anchor="start" textLength="126.5" lengthAdjust="spacing" fill="#000" stroke="#fff" stroke-width="0.15">Dark Energy</text>
<text x="219.4" y="89.2" font-size="20.5" text-anchor="start" textLength="108.0" lengthAdjust="spacing" fill="#000" stroke="#fff" stroke-width="0.15">Parameter</text>
<text x="219.4" y="117.7" font-size="20.5" text-anchor="start" textLength="110.0" lengthAdjust="spacing" fill="#000" stroke="#fff" stroke-width="0.15">Estimation</text>
<path d="M418.6,44.1 H334.2 M357.7,39.4 L334.2,44.1 L357.7,48.8" stroke="#000" stroke-width="1.6" fill="none"/>
<text x="193.3" y="197.3" font-size="25.5" text-anchor="start" textLength="62.5" lengthAdjust="spacingAndGlyphs" fill="#000" stroke="#000" stroke-width="0.8">SNAP</text>
<path d="M244.1,204.3 L218.3,322.5 M218.3,288.2 L218.3,322.5 L232.9,290.5" stroke="#000" stroke-width="1.9" fill="none" stroke-linejoin="miter"/>
<text x="664.2" y="114.2" font-size="25.5" text-anchor="start" textLength="60.9" lengthAdjust="spacingAndGlyphs" fill="#222238" stroke="#222238" stroke-width="0.65">CFHT</text>
<text x="738.2" y="114.2" font-size="25.5" text-anchor="start" textLength="57.3" lengthAdjust="spacingAndGlyphs" fill="#222238" stroke="#222238" stroke-width="0.65">WIDE</text>
<text x="630.5" y="280.9" font-size="25.5" text-anchor="start" textLength="55.1" lengthAdjust="spacingAndGlyphs" fill="#222238" stroke="#222238" stroke-width="0.65">LSST</text>
<path d="M655.5,287.1 L707.4,343.2 M678.6,322.2 L707.4,343.2 L688.6,313.2" stroke="#222238" stroke-width="2.3" fill="none"/>
<!-- tick labels -->
<g fill="#111">
<path d="M58.20,9.80 a7.45,9.60 0 1,0 14.90,0 a7.45,9.60 0 1,0 -14.90,0Z M60.05,9.80 a5.60,8.30 0 1,0 11.20,0 a5.60,8.30 0 1,0 -11.20,0Z" fill="#111" fill-rule="evenodd"/>
<text transform="translate(75.14,18.88) scale(0.2370,0.2285)" font-size="100" fill="#111">.</text>
<text transform="translate(82.82,18.92) scale(0.3227,0.2859)" font-size="100" fill="#111" stroke="#fff" stroke-width="0.72">5</text>
<path d="M58.20,79.22 a7.45,9.60 0 1,0 14.90,0 a7.45,9.60 0 1,0 -14.90,0Z M60.05,79.22 a5.60,8.30 0 1,0 11.20,0 a5.60,8.30 0 1,0 -11.20,0Z" fill="#111" fill-rule="evenodd"/>
<text transform="translate(75.14,88.30) scale(0.2370,0.2285)" font-size="100" fill="#111">.</text>
<text transform="translate(81.94,88.42) scale(0.3377,0.2856)" font-size="100" fill="#111" stroke="#fff" stroke-width="0.71">4</text>
<path d="M58.20,148.64 a7.45,9.60 0 1,0 14.90,0 a7.45,9.60 0 1,0 -14.90,0Z M60.05,148.64 a5.60,8.30 0 1,0 11.20,0 a5.60,8.30 0 1,0 -11.20,0Z" fill="#111" fill-rule="evenodd"/>
<text transform="translate(75.14,157.72) scale(0.2370,0.2285)" font-size="100" fill="#111">.</text>
<text transform="translate(83.41,157.76) scale(0.3123,0.2828)" font-size="100" fill="#111" stroke="#fff" stroke-width="0.74">3</text>
<path d="M58.20,218.06 a7.45,9.60 0 1,0 14.90,0 a7.45,9.60 0 1,0 -14.90,0Z M60.05,218.06 a5.60,8.30 0 1,0 11.20,0 a5.60,8.30 0 1,0 -11.20,0Z" fill="#111" fill-rule="evenodd"/>
<text transform="translate(75.14,227.14) scale(0.2370,0.2285)" font-size="100" fill="#111">.</text>
<text transform="translate(83.12,227.26) scale(0.3368,0.2839)" font-size="100" fill="#111" stroke="#fff" stroke-width="0.71">2</text>
<path d="M58.20,287.48 a7.45,9.60 0 1,0 14.90,0 a7.45,9.60 0 1,0 -14.90,0Z M60.05,287.48 a5.60,8.30 0 1,0 11.20,0 a5.60,8.30 0 1,0 -11.20,0Z" fill="#111" fill-rule="evenodd"/>
<text transform="translate(75.14,296.56) scale(0.2370,0.2285)" font-size="100" fill="#111">.</text>
<text transform="translate(85.38,296.68) scale(0.2414,0.2848)" font-size="100" fill="#111" stroke="#fff" stroke-width="0.84">1</text>
<path d="M83.50,356.80 a7.25,9.50 0 1,0 14.50,0 a7.25,9.50 0 1,0 -14.50,0Z M85.35,356.80 a5.40,8.20 0 1,0 10.80,0 a5.40,8.20 0 1,0 -10.80,0Z" fill="#111" fill-rule="evenodd"/>
<path d="M58.20,426.32 a7.45,9.60 0 1,0 14.90,0 a7.45,9.60 0 1,0 -14.90,0Z M60.05,426.32 a5.60,8.30 0 1,0 11.20,0 a5.60,8.30 0 1,0 -11.20,0Z" fill="#111" fill-rule="evenodd"/>
<text transform="translate(75.14,435.40) scale(0.2370,0.2285)" font-size="100" fill="#111">.</text>
<text transform="translate(85.38,435.52) scale(0.2414,0.2848)" font-size="100" fill="#111" stroke="#fff" stroke-width="0.84">1</text>
<path d="M37.8,426.9 h18.1" stroke="#000" stroke-width="1.4"/>
<path d="M58.20,495.74 a7.45,9.60 0 1,0 14.90,0 a7.45,9.60 0 1,0 -14.90,0Z M60.05,495.74 a5.60,8.30 0 1,0 11.20,0 a5.60,8.30 0 1,0 -11.20,0Z" fill="#111" fill-rule="evenodd"/>
<text transform="translate(75.14,504.82) scale(0.2370,0.2285)" font-size="100" fill="#111">.</text>
<text transform="translate(83.12,504.94) scale(0.3368,0.2839)" font-size="100" fill="#111" stroke="#fff" stroke-width="0.71">2</text>
<path d="M37.8,496.3 h18.1" stroke="#000" stroke-width="1.4"/>
<path d="M58.20,565.16 a7.45,9.60 0 1,0 14.90,0 a7.45,9.60 0 1,0 -14.90,0Z M60.05,565.16 a5.60,8.30 0 1,0 11.20,0 a5.60,8.30 0 1,0 -11.20,0Z" fill="#111" fill-rule="evenodd"/>
<text transform="translate(75.14,574.24) scale(0.2370,0.2285)" font-size="100" fill="#111">.</text>
<text transform="translate(83.41,574.28) scale(0.3123,0.2828)" font-size="100" fill="#111" stroke="#fff" stroke-width="0.74">3</text>
<path d="M37.8,565.8 h18.1" stroke="#000" stroke-width="1.4"/>
<path d="M58.20,634.58 a7.45,9.60 0 1,0 14.90,0 a7.45,9.60 0 1,0 -14.90,0Z M60.05,634.58 a5.60,8.30 0 1,0 11.20,0 a5.60,8.30 0 1,0 -11.20,0Z" fill="#111" fill-rule="evenodd"/>
<text transform="translate(75.14,643.66) scale(0.2370,0.2285)" font-size="100" fill="#111">.</text>
<text transform="translate(81.94,643.78) scale(0.3377,0.2856)" font-size="100" fill="#111" stroke="#fff" stroke-width="0.71">4</text>
<path d="M37.8,635.2 h18.1" stroke="#000" stroke-width="1.4"/>
<path d="M58.20,704.00 a7.45,9.60 0 1,0 14.90,0 a7.45,9.60 0 1,0 -14.90,0Z M60.05,704.00 a5.60,8.30 0 1,0 11.20,0 a5.60,8.30 0 1,0 -11.20,0Z" fill="#111" fill-rule="evenodd"/>
<text transform="translate(75.14,713.08) scale(0.2370,0.2285)" font-size="100" fill="#111">.</text>
<text transform="translate(82.82,713.12) scale(0.3227,0.2859)" font-size="100" fill="#111" stroke="#fff" stroke-width="0.72">5</text>
<path d="M37.8,704.6 h18.1" stroke="#000" stroke-width="1.4"/>
<text transform="translate(275.13,739.30) scale(0.2585,0.2893)" font-size="100" fill="#111" stroke="#fff" stroke-width="0.80">1</text>
<path d="M291.50,729.75 a7.40,9.75 0 1,0 14.80,0 a7.40,9.75 0 1,0 -14.80,0Z M293.35,729.75 a5.55,8.45 0 1,0 11.10,0 a5.55,8.45 0 1,0 -11.10,0Z" fill="#111" fill-rule="evenodd"/>
<text transform="translate(307.05,731.04) scale(0.2203,0.1667)" font-size="100" fill="#111" stroke="#fff" stroke-width="0.52">3</text>
<text transform="translate(532.13,739.30) scale(0.2585,0.2893)" font-size="100" fill="#111" stroke="#fff" stroke-width="0.80">1</text>
<path d="M548.50,729.75 a7.40,9.75 0 1,0 14.80,0 a7.40,9.75 0 1,0 -14.80,0Z M550.35,729.75 a5.55,8.45 0 1,0 11.10,0 a5.55,8.45 0 1,0 -11.10,0Z" fill="#111" fill-rule="evenodd"/>
<text transform="translate(564.72,731.20) scale(0.1958,0.1702)" font-size="100" fill="#111" stroke="#fff" stroke-width="0.55">4</text>
<text transform="translate(789.13,739.30) scale(0.2585,0.2893)" font-size="100" fill="#111" stroke="#fff" stroke-width="0.80">1</text>
<path d="M805.50,729.75 a7.40,9.75 0 1,0 14.80,0 a7.40,9.75 0 1,0 -14.80,0Z M807.35,729.75 a5.55,8.45 0 1,0 11.10,0 a5.55,8.45 0 1,0 -11.10,0Z" fill="#111" fill-rule="evenodd"/>
<text transform="translate(820.79,731.04) scale(0.2259,0.1685)" font-size="100" fill="#111" stroke="#fff" stroke-width="0.51">5</text>
</g>
<!-- x label -->
<g transform="translate(458.8,754.4)"><path d="M0.3,13 L6.8,0 L1.8,14.3 Z" fill="#111" stroke="#111" stroke-width="1.1" stroke-linejoin="round"/><path d="M1.8,14.3 Q0.7,18.6 2.9,18.7 Q4.9,18.7 7.2,13.8" fill="none" stroke="#111" stroke-width="1.2" stroke-linecap="round"/></g>
<!-- y label -->
<g transform="translate(0,515.1) rotate(-90)">
<path d="M6.2,0.6 H0.6 V27.4 H6.2 M10.7,21.6 L17.5,3.9 L24.3,21.6 Z M45.9,0.3 Q34.1,13.9 45.9,27.6 M59.6,0.3 Q71.4,13.9 59.6,27.6 M71.2,14 H87.3 M91.5,21.6 L98.3,3.9 L105.1,21.6 Z M164.4,0.3 Q152.6,13.9 164.4,27.6 M178.1,0.3 Q189.9,13.9 178.1,27.6 M193.2,0.6 H198.8 V27.4 H193.2 M203.6,27.6 L218.5,0.3 M223.3,21.6 L230.1,3.9 L236.9,21.6 Z M296.3,0.3 Q284.5,13.9 296.3,27.6 M310.0,0.3 Q321.8,13.9 310.0,27.6" fill="none" stroke="#111" stroke-width="1.35"/>
<text transform="translate(26.36,13.60) scale(0.1921,0.1707)" font-size="100" fill="#111">2</text>
<text transform="translate(26.34,31.00) scale(0.1806,0.1678)" font-size="100" font-style="italic" fill="#111">&#954;</text>
<g transform="translate(49.3,3.9)"><path d="M0.3,13 L6.8,0 L1.8,14.3 Z" fill="#111" stroke="#111" stroke-width="1.1" stroke-linejoin="round"/><path d="M1.8,14.3 Q0.7,18.6 2.9,18.7 Q4.9,18.7 7.2,13.8" fill="none" stroke="#111" stroke-width="1.2" stroke-linecap="round"/></g>
<text transform="translate(107.76,13.60) scale(0.1921,0.1707)" font-size="100" fill="#111">2</text>
<text transform="translate(106.64,31.00) scale(0.1806,0.1678)" font-size="100" font-style="italic" fill="#111">&#954;</text>
<text transform="translate(116.34,30.81) scale(0.1746,0.1752)" font-size="100" fill="#111">,</text>
<text transform="translate(121.10,30.97) scale(0.1393,0.1766)" font-size="100" fill="#111">D</text>
<text transform="translate(131.50,31.00) scale(0.1396,0.1772)" font-size="100" fill="#111">M</text>
<text transform="translate(144.10,31.03) scale(0.1718,0.1786)" font-size="100" fill="#111">O</text>
<g transform="translate(167.8,3.9)"><path d="M0.3,13 L6.8,0 L1.8,14.3 Z" fill="#111" stroke="#111" stroke-width="1.1" stroke-linejoin="round"/><path d="M1.8,14.3 Q0.7,18.6 2.9,18.7 Q4.9,18.7 7.2,13.8" fill="none" stroke="#111" stroke-width="1.2" stroke-linecap="round"/></g>
<text transform="translate(239.66,13.60) scale(0.1921,0.1707)" font-size="100" fill="#111">2</text>
<text transform="translate(238.54,31.00) scale(0.1806,0.1678)" font-size="100" font-style="italic" fill="#111">&#954;</text>
<text transform="translate(248.24,30.81) scale(0.1746,0.1752)" font-size="100" fill="#111">,</text>
<text transform="translate(253.00,30.97) scale(0.1393,0.1766)" font-size="100" fill="#111">D</text>
<text transform="translate(263.40,31.00) scale(0.1396,0.1772)" font-size="100" fill="#111">M</text>
<text transform="translate(276.00,31.03) scale(0.1718,0.1786)" font-size="100" fill="#111">O</text>
<g transform="translate(299.7,3.9)"><path d="M0.3,13 L6.8,0 L1.8,14.3 Z" fill="#111" stroke="#111" stroke-width="1.1" stroke-linejoin="round"/><path d="M1.8,14.3 Q0.7,18.6 2.9,18.7 Q4.9,18.7 7.2,13.8" fill="none" stroke="#111" stroke-width="1.2" stroke-linecap="round"/></g>
</g>
</g>
</svg>
</body></html>
